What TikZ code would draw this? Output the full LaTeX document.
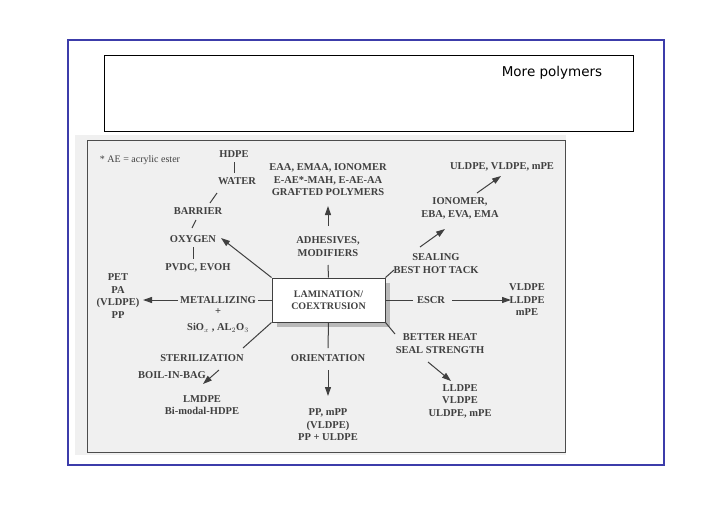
\documentclass[tikz,border=0pt]{standalone}
\usepackage{fontspec}
\setmainfont{Liberation Serif}
\newfontfamily\titlefont{DejaVu Sans}
\usetikzlibrary{arrows.meta}
\definecolor{frameblue}{RGB}{60,60,170}
\definecolor{ink}{gray}{0.25}
\begin{document}
\begin{tikzpicture}[x=1pt,y=-1pt,
  t/.style={inner sep=0pt,text=ink,font=\fontsize{10.5}{12.5}\selectfont\bfseries,align=center},
  ln/.style={draw=ink,line width=1pt},
  ar/.style={ln,-{Triangle[length=9pt,width=6pt]}}]
\useasboundingbox (0,0) rectangle (728,515);
\fill[white] (0,0) rectangle (728,515);
\draw[frameblue,line width=2pt] (68,40) rectangle (664,465);
\draw[black,line width=0.6pt] (104,55) rectangle (633,131);
\node[inner sep=0pt,font=\titlefont\fontsize{13.5}{15}\selectfont] (title) at (552,73) {More polymers};
\fill[gray!12] (75,135) rectangle (566,455);
\draw[gray!60!black,line width=0.7pt] (87,140) rectangle (565,452);
% central box
\fill[gray!55] (277,283) rectangle (390,327);
\node[draw=ink,fill=white,line width=1pt,minimum width=113pt,minimum height=44pt,inner sep=0pt,text=ink,font=\fontsize{10}{12}\selectfont\bfseries,align=center] (box) at (328.5,300) {LAMINATION/\\COEXTRUSION};
\node[t,font=\fontsize{10}{12}\selectfont] (note) at (140,160) {* AE = acrylic ester};
\node[t] (hdpe) at (234,154) {HDPE};
\node[t] (water) at (237,181) {WATER};
\node[t] (barrier) at (198,211) {BARRIER};
\node[t] (oxygen) at (193,239) {OXYGEN};
\node[t] (pvdc) at (198,268) {PVDC, EVOH};
\coordinate (w0) at (234,162); \coordinate (w1) at (234,173);
\draw[ln] (w0) -- (w1);
\coordinate (w2) at (217,193); \coordinate (w3) at (210,203);
\draw[ln] (w2) -- (w3);
\coordinate (w4) at (196,220); \coordinate (w5) at (192,228);
\draw[ln] (w4) -- (w5);
\coordinate (w6) at (193,247); \coordinate (w7) at (193,259);
\draw[ln] (w6) -- (w7);
\coordinate (o1) at (221,238);
\draw[ar] (box.north west) -- (o1);
\node[t] (pet) at (118,296) {PET\\PA\\(VLDPE)\\PP};
\node[t] (metal) at (218,300) {METALLIZING};
\node[t] (plus) at (218,312) {+};
\node[t] (sio) at (218,328) {SiO$_x$ , AL$_2$O$_3$};
\coordinate (m1) at (258,300); \coordinate (m2) at (178,300); \coordinate (m3) at (143,300);
\draw[ln] (box.west) -- (m1);
\draw[ar] (m2) -- (m3);
\coordinate (c1) at (243,348);
\draw[ln] (box.south west) -- (c1);
\node[t] (steril) at (202,358) {STERILIZATION};
\node[t] (boil) at (172,375) {BOIL-IN-BAG};
\coordinate (b1) at (219,370);
\coordinate (b2) at (203,384);
\draw[ar] (b1) -- (b2);
\node[t] (lmdpe) at (202,405) {LMDPE\\Bi-modal-HDPE};
\node[t] (eaa) at (328,180) {EAA, EMAA, IONOMER\\E-AE*-MAH, E-AE-AA\\GRAFTED POLYMERS};
\node[t] (adh) at (328,246.5) {ADHESIVES,\\MODIFIERS};
\coordinate (a0) at (328,265); \coordinate (a1) at (328,226); \coordinate (a2) at (328,206);
\draw[ln] (box.north) -- (a0);
\draw[ar] (a1) -- (a2);
\coordinate (c2) at (394,270);
\draw[ln] (box.north east) -- (c2);
\node[t] (seal) at (436,263.5) {SEALING\\BEST HOT TACK};
\node[t] (iono) at (460,208.5) {IONOMER,\\EBA, EVA, EMA};
\node[t] (uld) at (502,167) {ULDPE, VLDPE, mPE};
\coordinate (s1) at (420,247); \coordinate (s2) at (445,229);
\draw[ar] (s1) -- (s2);
\coordinate (i1) at (477,193); \coordinate (i2) at (501,176);
\draw[ar] (i1) -- (i2);
\node[t] (escr) at (431,300) {ESCR};
\node[t] (vl) at (527,300) {VLDPE\\LLDPE\\mPE};
\coordinate (e0) at (413,300); \coordinate (e1) at (452,300); \coordinate (e2) at (511,300);
\draw[ln] (box.east) -- (e0);
\draw[ar] (e1) -- (e2);
\coordinate (c3) at (395,334);
\draw[ln] (box.south east) -- (c3);
\node[t] (better) at (440,343.5) {BETTER HEAT\\SEAL STRENGTH};
\node[t] (ll) at (460,401) {LLDPE\\VLDPE\\ULDPE, mPE};
\coordinate (d1) at (428,362); \coordinate (d2) at (451,381);
\draw[ar] (d1) -- (d2);
\node[t] (orient) at (328,358) {ORIENTATION};
\node[t] (pp) at (328,425) {PP, mPP\\(VLDPE)\\PP + ULDPE};
\coordinate (r0) at (328,348); \coordinate (r1) at (328,370); \coordinate (r2) at (328,396);
\draw[ln] (box.south) -- (r0);
\draw[ar] (r1) -- (r2);
\end{tikzpicture}
\end{document}
